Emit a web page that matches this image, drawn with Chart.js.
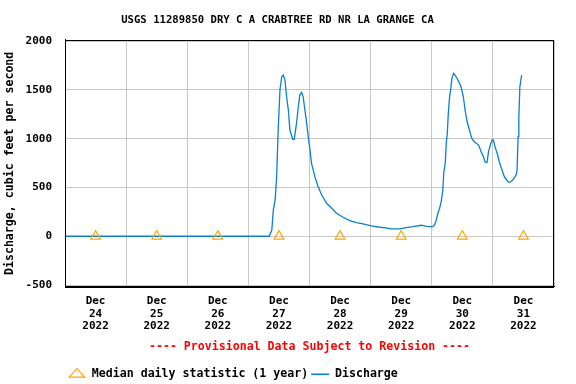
<!DOCTYPE html>
<html>
<head>
<meta charset="utf-8">
<script src="https://cdn.jsdelivr.net/npm/chart.js@4"></script>
<style>
  html, body { margin: 0; padding: 0; background: #fff; }
</style>
</head>
<body>
<canvas id="flow" width="576" height="384"></canvas>
<script>
/*
*  USGS discharge hydrograph, Dec 24 - Dec 31 2022
*/

const chartTitle = 'USGS 11289850 DRY C A CRABTREE RD NR LA GRANGE CA';
const yAxisTitle = 'Discharge, cubic feet per second';
const provisionalNote = '---- Provisional Data Subject to Revision ----';

// x is hours since Dec 24 2022 00:00
const dayLabels = ['24', '25', '26', '27', '28', '29', '30', '31'];
const monthLabel = 'Dec';
const yearLabel = '2022';
const yTicks = [-500, 0, 500, 1000, 1500, 2000];

const dischargeHours = [0, 80.2, 81.2, 81.8, 82.5, 83.1, 83.7, 84.4, 85.1, 85.7, 86.4, 87.0, 87.7, 88.3, 89.4, 90.0,
    90.9, 91.6, 92.2, 92.9, 93.5, 94.2, 94.9, 95.5, 96.2, 96.8, 98.1, 99.4, 100.8, 102.7, 104.7, 106.6, 109.2,
    111.8, 114.4, 117.0, 120.3, 123.0, 126.0, 128.1, 131.4, 134.0, 136.6, 139.9, 142.5, 144.4, 145.1, 145.8,
    146.4, 147.1, 147.7, 148.3, 148.7, 149.3, 149.7, 150.1, 150.5, 151.0, 151.4, 151.9, 152.6, 153.6, 154.6,
    155.5, 156.4, 157.1, 157.9, 158.8, 159.7, 160.7, 162.4, 163.4, 164.3, 165.0, 165.7, 166.3, 167.0, 167.7,
    168.2, 169.0, 169.9, 170.5, 171.6, 172.5, 173.4, 174.2, 175.1, 176.1, 177.1, 177.5, 177.9, 178.2, 178.6, 179.3];
const dischargeValues = [0, 0, 64, 270, 372, 611, 1089, 1499, 1635, 1653, 1601, 1430, 1294, 1089, 994, 994,
    1158, 1328, 1448, 1475, 1430, 1294, 1158, 1021, 884, 748, 611, 508, 423, 338, 287, 236, 195,
    160, 139, 126, 106, 95, 85, 75, 75, 88, 98, 113, 98, 98, 116, 167,
    236, 287, 355, 457, 645, 748, 953, 1055, 1260, 1430, 1499, 1619, 1670, 1635, 1584,
    1533, 1430, 1294, 1174, 1089, 1004, 969, 935, 867, 816, 758, 758, 867, 935, 987,
    987, 902, 833, 764, 679, 611, 577, 553, 560, 587, 628, 679, 1021, 1225, 1533, 1653];

const medianHours = [12, 36, 60, 84, 108, 132, 156, 180];
const medianValues = [0, 0, 0, 0, 0, 0, 0, 0];

const FONT = "'DejaVu Sans Mono', 'Liberation Mono', monospace";

function zipPoints(xs, ys) {
    let n = Math.min(xs.length, ys.length);
    let pts = [];
    for (let i = 0; i < n; i++) pts.push({x: xs[i], y: ys[i]});
    return pts;
}

// box round the plot area, top and right sides are not drawn by the axes
const frameBox = {
    id: 'frameBox',
    afterDatasetsDraw(chart) {
        let a = chart.chartArea, ctx = chart.ctx;
        ctx.save();
        ctx.strokeStyle = '#000';
        ctx.lineWidth = 1;
        ctx.strokeRect(Math.round(a.left) + 0.5, Math.round(a.top) + 0.5,
            Math.round(a.right - a.left) - 1, Math.round(a.bottom - a.top));
        ctx.restore();
    }
};

function makeChart(canvas) {
    let chartConfig = {
        type: 'line',
        data: {
            datasets: [
                {
                    label: 'Median daily statistic (1 year)',
                    data: zipPoints(medianHours, medianValues),
                    showLine: false,
                    pointStyle: 'triangle',
                    pointRadius: 5.6,
                    pointBorderColor: '#ffa500',
                    pointBackgroundColor: 'rgba(0,0,0,0)',
                    borderColor: '#ffa500',
                    backgroundColor: 'rgba(0,0,0,0)',
                    pointBorderWidth: 1.2,
                },
                {
                    label: 'Discharge',
                    data: zipPoints(dischargeHours, dischargeValues),
                    borderColor: '#0a80cf',
                    backgroundColor: '#0a80cf',
                    borderWidth: 1.3,
                    pointRadius: 0,
                    pointStyle: 'line',
                    pointBorderWidth: 1.5,
                    tension: 0,
                },
            ],
        },
        options: {
            responsive: false,
            animation: false,
            devicePixelRatio: 1,
            layout: { padding: { left: 1, right: 22, top: 0, bottom: -6 } },
            scales: {
                x: {
                    type: 'linear',
                    min: 0,
                    max: 192,
                    afterBuildTicks: (axis) => {
                        let ticks = [];
                        for (let h = 0; h <= 192; h += 12) ticks.push({value: h});
                        axis.ticks = ticks;
                    },
                    grid: {
                        color: (ctx) => (ctx.tick && ctx.tick.value % 24 === 0) ? '#c8c8c8' : 'rgba(0,0,0,0)',
                        drawTicks: false,
                    },
                    border: { color: '#000', width: 1 },
                    ticks: {
                        autoSkip: false,
                        maxRotation: 0,
                        padding: 8,
                        color: '#000',
                        font: { family: FONT, size: 11, weight: 'bold', lineHeight: '12.5px' },
                        callback: (value) => {
                            if (value % 24 !== 12) return '';
                            return [monthLabel, dayLabels[(value - 12) / 24], yearLabel];
                        },
                    },
                    title: {
                        display: true,
                        text: provisionalNote,
                        color: '#ff0000',
                        font: { family: FONT, size: 11.6, weight: 'bold' },
                        padding: { top: 0, bottom: 11 },
                    },
                },
                y: {
                    min: -520,
                    max: 2015,
                    afterBuildTicks: (axis) => { axis.ticks = yTicks.map(v => ({value: v})); },
                    afterFit: (axis) => { axis.width = 64; },
                    grid: { color: '#c8c8c8', drawTicks: false },
                    border: { color: '#000', width: 1 },
                    ticks: {
                        padding: 13,
                        color: '#000',
                        font: { family: FONT, size: 11, weight: 'bold' },
                        callback: (value) => String(value),
                    },
                    title: {
                        display: true,
                        text: yAxisTitle,
                        color: '#000',
                        font: { family: FONT, size: 11.6, weight: 'bold' },
                        padding: { top: 2, bottom: 6 },
                    },
                },
            },
            plugins: {
                title: {
                    display: true,
                    text: chartTitle,
                    color: '#000',
                    font: { family: FONT, size: 10.6, weight: 'bold' },
                    padding: { top: 14, bottom: 13 },
                },
                legend: {
                    display: true,
                    position: 'bottom',
                    align: 'start',
                    fullSize: false,
                    labels: {
                        usePointStyle: true,
                        pointStyleWidth: 18,
                        boxHeight: 8,
                        padding: 3,
                        color: '#000',
                        font: { family: FONT, size: 11.6, weight: 'bold' },
                    },
                },
                tooltip: { enabled: false },
            },
        },
        plugins: [frameBox],
    };
    return new Chart(canvas, chartConfig);
}

makeChart(document.getElementById('flow'));
</script>
</body>
</html>
